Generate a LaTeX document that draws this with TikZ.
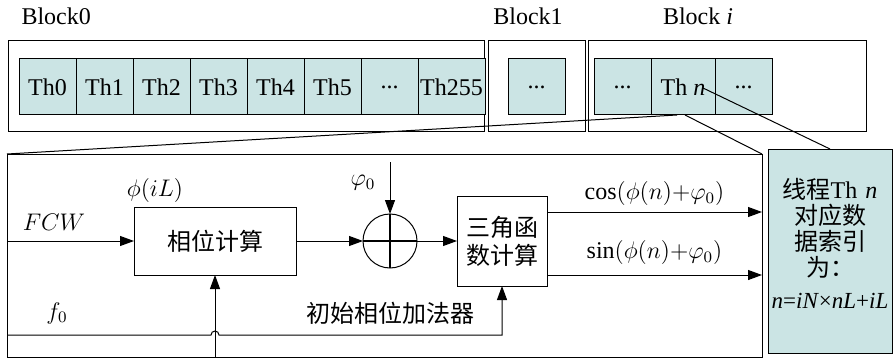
\documentclass[tikz,border=0pt]{standalone}
\usepackage{fontspec}
\setmainfont{Liberation Serif}
\newfontfamily\cjk{Noto Sans CJK SC}
\usetikzlibrary{positioning}
\usetikzlibrary{arrows.meta}
\definecolor{cellcyan}{RGB}{203,228,228}

\tikzset{
	cell/.style={draw, fill=cellcyan, minimum width=28.5pt, minimum height=28pt, outer sep=0pt, inner sep=1pt},
	blk/.style={draw, minimum height=45pt, outer sep=0pt},
	proc/.style={draw, outer sep=0pt, font=\cjk, align=center},
	arr/.style={-{Triangle[length=7pt,width=5pt]}},
}

\begin{document}
\fontsize{12}{14}\selectfont
\begin{tikzpicture}[x=0.5pt, y=-0.5pt, line width=0.5pt]
			\useasboundingbox (0,0) rectangle (893,358);

			% blocks and threads
			\node[blk, minimum width=238pt] (blk0) at (246,86) {};
			\node[blk, minimum width=48.5pt] (blk1) at (536.5,86) {};
			\node[blk, minimum width=139pt] (blki) at (727,86) {};
			\node[anchor=west] (lab0) at (13,16) {Block0};
			\node (lab1) at (528,16) {Block1};
			\node (labi) at (698,16) {Block \textit{i}};

			\node[cell] (th0) at (47.5,87) {Th0};
			\node[cell, right=0pt of th0] (th1) {Th1};
			\node[cell, right=0pt of th1] (th2) {Th2};
			\node[cell, right=0pt of th2] (th3) {Th3};
			\node[cell, right=0pt of th3] (th4) {Th4};
			\node[cell, right=0pt of th4] (th5) {Th5};
			\node[cell, right=0pt of th5] (thd) {...};
			\node[cell, right=0pt of thd, minimum width=33.5pt] (th255) {Th255};

			\node[cell] (b1c) at (536.5,87) {...};

			\node[cell] (bid1) at (622.5,87) {...};
			\node[cell, right=0pt of bid1, minimum width=32pt] (thn) {Th \textit{n}};
			\node[cell, right=0pt of thn] (bid2) {...};
			\coordinate (nend) at (703,88);

			% detail of thread n
			\node[draw, minimum width=377.5pt, minimum height=101.5pt, outer sep=0pt] (lower) at (384.5,255.5) {};
			\node[draw, fill=cellcyan, minimum width=62pt, minimum height=102pt, outer sep=0pt] (rbox) at (830,251) {};
			\node[text width=60pt, inner sep=0pt, align=center, font=\fontsize{12}{13}\selectfont] (rtext) at (830,243)
				{{\cjk 线程}Th \textit{n}\\{\cjk 对应数}\\{\cjk 据索引}\\{\cjk 为：}\\[3pt]{\fontsize{11.5}{14}\selectfont\textit{n}=\textit{iN}×\textit{nL}+\textit{iL}}};

			\draw ([xshift=-3pt]thn.south) -- (lower.north west);
			\draw ([xshift=1pt]thn.south) -- (lower.north east);
			\draw (nend) -- (rbox.north);

			\node[proc, minimum width=81pt, minimum height=34pt] (phase) at (215,241) {相位计算};
			\node[draw, circle, minimum size=27pt, outer sep=0pt] (sum) at (390,241) {};
			\draw[line width=1.2pt] (sum.north) -- (sum.south) (sum.west) -- (sum.east);
			\node[proc, minimum width=45pt, minimum height=45pt] (trig) at (502,241) {三角函\\数计算};

			\coordinate (phiin) at (390,162);
			\coordinate (f0in) at (7,335);

			\draw[arr] (lower.west |- phase.west) -- (phase.west);
			\draw[arr] (phase) -- (sum);
			\draw[arr] (sum) -- (trig);
			\draw[arr] (phiin) -- (sum.north);
			\draw[arr] ([yshift=14.5pt]trig.east) -- ([yshift=14.5pt]trig.east -| lower.east)
				node[midway, above=-1pt] {$\cos(\phi(n){+}\varphi_0)$};
			\draw[arr] ([yshift=-17pt]trig.east) -- ([yshift=-17pt]trig.east -| lower.east)
				node[midway, above=1pt] {$\sin(\phi(n){+}\varphi_0)$};
			\draw[arr] (f0in) -- ([xshift=-2pt]phase.south |- f0in) arc[start angle=180, end angle=0, radius=2pt]
				-- (trig.south |- f0in) -- (trig.south);
			\draw[arr] (phase.south |- lower.south) -- (phase.south);

			\node (fcwlab) at (54,222) {$FCW$};
			\node (philab) at (155,190) {$\phi(iL)$};
			\node (phi0lab) at (363,183) {$\varphi_0$};
			\node (f0lab) at (57,313) {$f_0$};
			\node[font=\cjk] (addlab) at (390,313) {初始相位加法器};
		\end{tikzpicture}
\end{document}
